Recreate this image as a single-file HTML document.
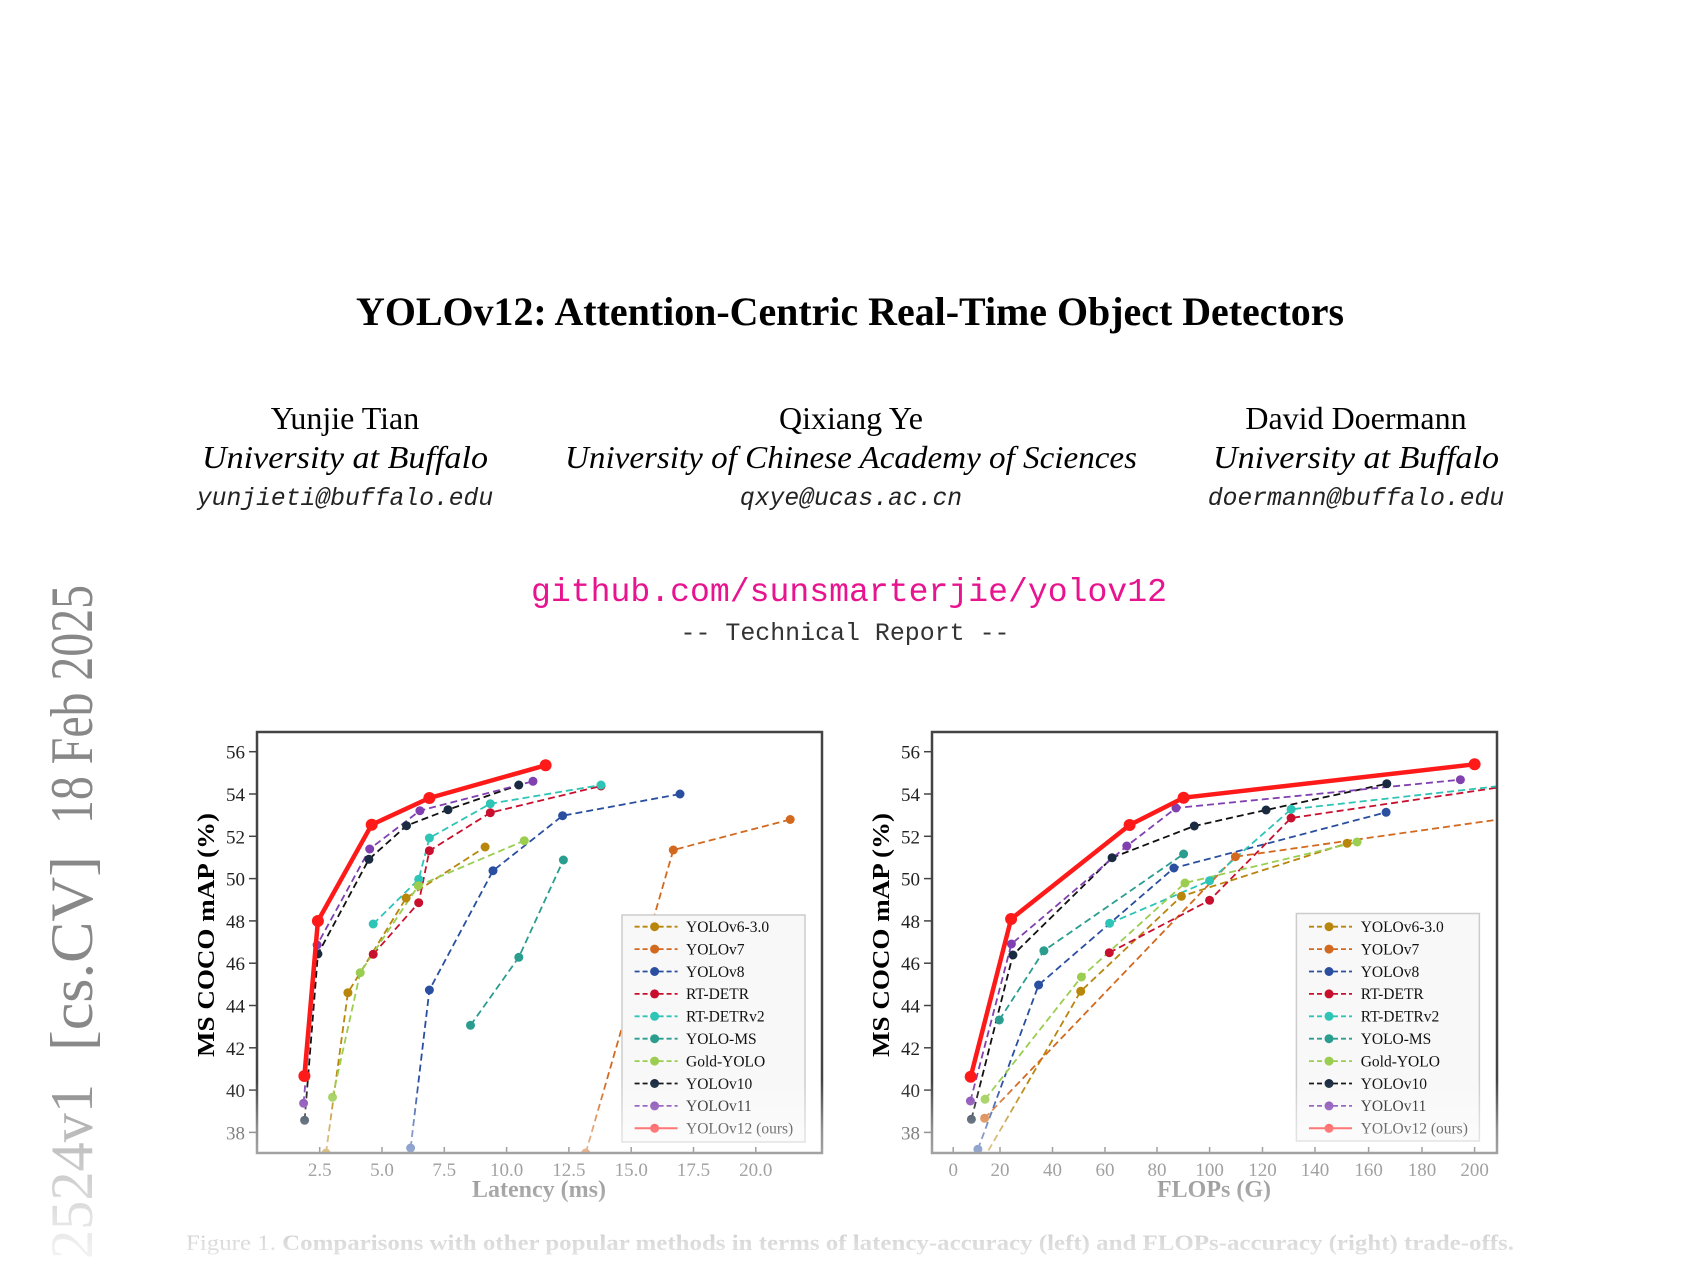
<!DOCTYPE html>
<html><head><meta charset="utf-8"><style>html,body{margin:0;padding:0;background:#fff;width:1700px;height:1275px;overflow:hidden}svg{display:block}</style></head>
<body>
<svg width="1700" height="1275" viewBox="0 0 1700 1275" xmlns="http://www.w3.org/2000/svg" font-family="'Liberation Serif', serif">
<defs>
<clipPath id="cl"><rect x="257" y="732" width="565" height="421"/></clipPath>
<clipPath id="cr"><rect x="932" y="732" width="565" height="421"/></clipPath>
<linearGradient id="fade" x1="0" y1="1080" x2="0" y2="1275" gradientUnits="userSpaceOnUse">
<stop offset="0" stop-color="#fff" stop-opacity="0"/>
<stop offset="0.26" stop-color="#fff" stop-opacity="0.42"/>
<stop offset="0.5" stop-color="#fff" stop-opacity="0.6"/>
<stop offset="0.85" stop-color="#fff" stop-opacity="0.87"/>
<stop offset="1" stop-color="#fff" stop-opacity="0.92"/>
</linearGradient>
</defs>
<rect width="1700" height="1275" fill="#fff"/>

<text x="850" y="325" font-size="40" font-weight="bold" text-anchor="middle" textLength="988" lengthAdjust="spacingAndGlyphs">YOLOv12: Attention-Centric Real-Time Object Detectors</text>

<g font-size="32" text-anchor="middle">
<text x="345" y="429">Yunjie Tian</text>
<text x="851" y="429">Qixiang Ye</text>
<text x="1356" y="429">David Doermann</text>
<g font-style="italic">
<text x="345" y="468" textLength="286" lengthAdjust="spacingAndGlyphs">University at Buffalo</text>
<text x="851" y="468" textLength="572" lengthAdjust="spacingAndGlyphs">University of Chinese Academy of Sciences</text>
<text x="1356" y="468" textLength="286" lengthAdjust="spacingAndGlyphs">University at Buffalo</text>
</g>
</g>
<g font-family="'Liberation Mono', monospace" font-size="24.7" font-style="italic" text-anchor="middle" fill="#222">
<text x="345" y="505">yunjieti@buffalo.edu</text>
<text x="851" y="505">qxye@ucas.ac.cn</text>
<text x="1356" y="505">doermann@buffalo.edu</text>
</g>
<text x="849" y="601" font-family="'Liberation Mono', monospace" font-size="33" fill="#e8138f" text-anchor="middle" textLength="636" lengthAdjust="spacingAndGlyphs">github.com/sunsmarterjie/yolov12</text>
<text x="845" y="640" font-family="'Liberation Mono', monospace" font-size="25" fill="#333" text-anchor="middle" textLength="329" lengthAdjust="spacingAndGlyphs">-- Technical Report --</text>

<!-- sidebar -->
<g fill="#888" font-size="60">
<text transform="translate(92,824) rotate(-90)" textLength="239" lengthAdjust="spacingAndGlyphs">18 Feb 2025</text>
<text transform="translate(92,1051) rotate(-90)" textLength="195" lengthAdjust="spacingAndGlyphs">[cs.CV]</text>
<text transform="translate(92,1259) rotate(-90)" textLength="175" lengthAdjust="spacingAndGlyphs">2524v1</text>
</g>

<!-- ============ LEFT CHART ============ -->
<g font-size="19" text-anchor="end" fill="#222">
<text x="245" y="758.7">56</text><text x="245" y="801">54</text><text x="245" y="843.3">52</text><text x="245" y="885.6">50</text><text x="245" y="927.9">48</text><text x="245" y="970.2">46</text><text x="245" y="1012.5">44</text><text x="245" y="1054.8">42</text><text x="245" y="1097.1">40</text><text x="245" y="1139.4">38</text>
</g>
<g stroke="#444" stroke-width="1.5">
<line x1="249" x2="257" y1="751.7" y2="751.7"/><line x1="249" x2="257" y1="794" y2="794"/><line x1="249" x2="257" y1="836.3" y2="836.3"/><line x1="249" x2="257" y1="878.6" y2="878.6"/><line x1="249" x2="257" y1="920.9" y2="920.9"/><line x1="249" x2="257" y1="963.2" y2="963.2"/><line x1="249" x2="257" y1="1005.5" y2="1005.5"/><line x1="249" x2="257" y1="1047.8" y2="1047.8"/><line x1="249" x2="257" y1="1090.1" y2="1090.1"/><line x1="249" x2="257" y1="1132.4" y2="1132.4"/>
<line x1="319.7" x2="319.7" y1="1147" y2="1153"/><line x1="382" x2="382" y1="1147" y2="1153"/><line x1="444.3" x2="444.3" y1="1147" y2="1153"/><line x1="506.6" x2="506.6" y1="1147" y2="1153"/><line x1="568.9" x2="568.9" y1="1147" y2="1153"/><line x1="631.2" x2="631.2" y1="1147" y2="1153"/><line x1="693.5" x2="693.5" y1="1147" y2="1153"/><line x1="755.8" x2="755.8" y1="1147" y2="1153"/>
</g>
<g font-size="19" text-anchor="middle" fill="#222">
<text x="319.7" y="1176">2.5</text><text x="382" y="1176">5.0</text><text x="444.3" y="1176">7.5</text><text x="506.6" y="1176">10.0</text><text x="568.9" y="1176">12.5</text><text x="631.2" y="1176">15.0</text><text x="693.5" y="1176">17.5</text><text x="755.8" y="1176">20.0</text>
</g>
<text x="539" y="1197" font-size="24" font-weight="bold" text-anchor="middle">Latency (ms)</text>
<text transform="translate(214,935) rotate(-90)" font-size="24" font-weight="bold" text-anchor="middle" textLength="244" lengthAdjust="spacingAndGlyphs">MS COCO mAP (%)</text>

<g clip-path="url(#cl)" fill="none" stroke-width="1.8" stroke-dasharray="7 4">
<polyline stroke="#b8860b" points="326,1153 347.9,992.7 406.1,898 485.1,847"/>
<polyline stroke="#d2691e" points="585.7,1153 673.3,850 790.2,819.5"/>
<polyline stroke="#2a4fa0" points="410.6,1148 429.4,990 493,870.7 562.6,815.7 680,794"/>
<polyline stroke="#c8102e" points="373.2,954.3 418.7,902.7 429.4,850.7 490.3,812.7 601,786"/>
<polyline stroke="#2ec4b6" points="373.2,924 418.7,879.3 429.4,838 490.3,803.7 601,785"/>
<polyline stroke="#2a9d8f" points="470.5,1025.3 518.8,957.3 563.4,860"/>
<polyline stroke="#9acd50" points="332.5,1097.3 360.2,972.7 418.3,885.7 524.3,840.7"/>
<polyline stroke="#111" points="304.6,1120.3 317.9,954 368.9,859.3 406.5,825.7 448,809.7 518.8,785"/>
<polyline stroke="#8040b0" points="303.6,1103.3 317.1,945 369.7,849 419.9,810.7 533,781.3"/>
</g>
<g clip-path="url(#cl)">
<g fill="#b8860b"><circle cx="326" cy="1153" r="4.5"/><circle cx="347.9" cy="992.7" r="4.5"/><circle cx="406.1" cy="898" r="4.5"/><circle cx="485.1" cy="847" r="4.5"/></g>
<g fill="#d2691e"><circle cx="585.7" cy="1153" r="4.5"/><circle cx="673.3" cy="850" r="4.5"/><circle cx="790.2" cy="819.5" r="4.5"/></g>
<g fill="#2a4fa0"><circle cx="410.6" cy="1148" r="4.5"/><circle cx="429.4" cy="990" r="4.5"/><circle cx="493" cy="870.7" r="4.5"/><circle cx="562.6" cy="815.7" r="4.5"/><circle cx="680" cy="794" r="4.5"/></g>
<g fill="#c8102e"><circle cx="373.2" cy="954.3" r="4.5"/><circle cx="418.7" cy="902.7" r="4.5"/><circle cx="429.4" cy="850.7" r="4.5"/><circle cx="490.3" cy="812.7" r="4.5"/><circle cx="601" cy="786" r="4.5"/></g>
<g fill="#2ec4b6"><circle cx="373.2" cy="924" r="4.5"/><circle cx="418.7" cy="879.3" r="4.5"/><circle cx="429.4" cy="838" r="4.5"/><circle cx="490.3" cy="803.7" r="4.5"/><circle cx="601" cy="785" r="4.5"/></g>
<g fill="#2a9d8f"><circle cx="470.5" cy="1025.3" r="4.5"/><circle cx="518.8" cy="957.3" r="4.5"/><circle cx="563.4" cy="860" r="4.5"/></g>
<g fill="#9acd50"><circle cx="332.5" cy="1097.3" r="4.5"/><circle cx="360.2" cy="972.7" r="4.5"/><circle cx="418.3" cy="885.7" r="4.5"/><circle cx="524.3" cy="840.7" r="4.5"/></g>
<g fill="#1a2a40"><circle cx="304.6" cy="1120.3" r="4.5"/><circle cx="317.9" cy="954" r="4.5"/><circle cx="368.9" cy="859.3" r="4.5"/><circle cx="406.5" cy="825.7" r="4.5"/><circle cx="448" cy="809.7" r="4.5"/><circle cx="518.8" cy="785" r="4.5"/></g>
<g fill="#8040b0"><circle cx="303.6" cy="1103.3" r="4.5"/><circle cx="317.1" cy="945" r="4.5"/><circle cx="369.7" cy="849" r="4.5"/><circle cx="419.9" cy="810.7" r="4.5"/><circle cx="533" cy="781.3" r="4.5"/></g>
<polyline fill="none" stroke="#ff1a1a" stroke-width="4.5" stroke-linejoin="round" points="304.4,1076 317.9,921 371.7,824.7 429.4,798 545.6,765.3"/>
<g fill="#ff1a1a"><circle cx="304.4" cy="1076" r="6"/><circle cx="317.9" cy="921" r="6"/><circle cx="371.7" cy="824.7" r="6"/><circle cx="429.4" cy="798" r="6"/><circle cx="545.6" cy="765.3" r="6"/></g>
</g>
<rect x="257" y="732" width="565" height="421" fill="none" stroke="#444" stroke-width="2.5"/>

<!-- left legend -->
<g>
<rect x="622" y="915" width="183" height="227" fill="#f8f8f8" stroke="#ccc" stroke-width="1.5"/>
<g stroke-width="1.8" stroke-dasharray="5 3">
<line x1="634.6" x2="677.6" y1="926.7" y2="926.7" stroke="#b8860b"/>
<line x1="634.6" x2="677.6" y1="949.1" y2="949.1" stroke="#d2691e"/>
<line x1="634.6" x2="677.6" y1="971.5" y2="971.5" stroke="#2a4fa0"/>
<line x1="634.6" x2="677.6" y1="993.9" y2="993.9" stroke="#c8102e"/>
<line x1="634.6" x2="677.6" y1="1016.3" y2="1016.3" stroke="#2ec4b6"/>
<line x1="634.6" x2="677.6" y1="1038.7" y2="1038.7" stroke="#2a9d8f"/>
<line x1="634.6" x2="677.6" y1="1061.1" y2="1061.1" stroke="#9acd50"/>
<line x1="634.6" x2="677.6" y1="1083.5" y2="1083.5" stroke="#111"/>
<line x1="634.6" x2="677.6" y1="1105.9" y2="1105.9" stroke="#8040b0"/>
</g>
<line x1="634.6" x2="677.6" y1="1128.3" y2="1128.3" stroke="#ff1a1a" stroke-width="2"/>
<circle cx="654.6" cy="926.7" r="4.5" fill="#b8860b"/><circle cx="654.6" cy="949.1" r="4.5" fill="#d2691e"/><circle cx="654.6" cy="971.5" r="4.5" fill="#2a4fa0"/><circle cx="654.6" cy="993.9" r="4.5" fill="#c8102e"/><circle cx="654.6" cy="1016.3" r="4.5" fill="#2ec4b6"/><circle cx="654.6" cy="1038.7" r="4.5" fill="#2a9d8f"/><circle cx="654.6" cy="1061.1" r="4.5" fill="#9acd50"/><circle cx="654.6" cy="1083.5" r="4.5" fill="#1a2a40"/><circle cx="654.6" cy="1105.9" r="4.5" fill="#8040b0"/><circle cx="654.6" cy="1128.3" r="4.5" fill="#ff1a1a"/>
<g font-size="15.5" fill="#111">
<text x="686" y="932">YOLOv6-3.0</text><text x="686" y="954.4">YOLOv7</text><text x="686" y="976.8">YOLOv8</text><text x="686" y="999.2">RT-DETR</text><text x="686" y="1021.6">RT-DETRv2</text><text x="686" y="1044">YOLO-MS</text><text x="686" y="1066.4">Gold-YOLO</text><text x="686" y="1088.8">YOLOv10</text><text x="686" y="1111.2">YOLOv11</text><text x="686" y="1133.6">YOLOv12 (ours)</text>
</g>
</g>

<!-- ============ RIGHT CHART ============ -->
<g font-size="19" text-anchor="end" fill="#222">
<text x="920" y="758.7">56</text><text x="920" y="801">54</text><text x="920" y="843.3">52</text><text x="920" y="885.6">50</text><text x="920" y="927.9">48</text><text x="920" y="970.2">46</text><text x="920" y="1012.5">44</text><text x="920" y="1054.8">42</text><text x="920" y="1097.1">40</text><text x="920" y="1139.4">38</text>
</g>
<g stroke="#444" stroke-width="1.5">
<line x1="924" x2="932" y1="751.7" y2="751.7"/><line x1="924" x2="932" y1="794" y2="794"/><line x1="924" x2="932" y1="836.3" y2="836.3"/><line x1="924" x2="932" y1="878.6" y2="878.6"/><line x1="924" x2="932" y1="920.9" y2="920.9"/><line x1="924" x2="932" y1="963.2" y2="963.2"/><line x1="924" x2="932" y1="1005.5" y2="1005.5"/><line x1="924" x2="932" y1="1047.8" y2="1047.8"/><line x1="924" x2="932" y1="1090.1" y2="1090.1"/><line x1="924" x2="932" y1="1132.4" y2="1132.4"/>
<line x1="953.2" x2="953.2" y1="1147" y2="1153"/><line x1="1000" x2="1000" y1="1147" y2="1153"/><line x1="1052.5" x2="1052.5" y1="1147" y2="1153"/><line x1="1105" x2="1105" y1="1147" y2="1153"/><line x1="1157" x2="1157" y1="1147" y2="1153"/><line x1="1209.6" x2="1209.6" y1="1147" y2="1153"/><line x1="1262.5" x2="1262.5" y1="1147" y2="1153"/><line x1="1315" x2="1315" y1="1147" y2="1153"/><line x1="1368.6" x2="1368.6" y1="1147" y2="1153"/><line x1="1422" x2="1422" y1="1147" y2="1153"/><line x1="1474.6" x2="1474.6" y1="1147" y2="1153"/>
</g>
<g font-size="19" text-anchor="middle" fill="#222">
<text x="953.2" y="1176">0</text><text x="1000" y="1176">20</text><text x="1052.5" y="1176">40</text><text x="1105" y="1176">60</text><text x="1157" y="1176">80</text><text x="1209.6" y="1176">100</text><text x="1262.5" y="1176">120</text><text x="1315" y="1176">140</text><text x="1368.6" y="1176">160</text><text x="1422" y="1176">180</text><text x="1474.6" y="1176">200</text>
</g>
<text x="1214" y="1197" font-size="24" font-weight="bold" text-anchor="middle">FLOPs (G)</text>
<text transform="translate(889,935) rotate(-90)" font-size="24" font-weight="bold" text-anchor="middle" textLength="244" lengthAdjust="spacingAndGlyphs">MS COCO mAP (%)</text>

<g clip-path="url(#cr)" fill="none" stroke-width="1.8" stroke-dasharray="7 4">
<polyline stroke="#b8860b" points="982.9,1160 1080.7,991.3 1181.4,896.3 1347.1,843.3"/>
<polyline stroke="#d2691e" points="984.6,1118.3 1235.4,856.7 1500,819.3"/>
<polyline stroke="#2a4fa0" points="977.9,1149.3 1038.6,985 1173.9,868 1386.1,812.3"/>
<polyline stroke="#c8102e" points="1109.3,952.7 1209.6,900.3 1291.1,818 1500,787.3"/>
<polyline stroke="#2ec4b6" points="1109.6,923.3 1209.6,880.7 1291.1,809.3 1500,786"/>
<polyline stroke="#2a9d8f" points="999.3,1020 1043.9,950.7 1183.6,854"/>
<polyline stroke="#9acd50" points="985,1099.3 1081.4,977 1185,883 1357.1,842"/>
<polyline stroke="#111" points="971.4,1119.3 1012.9,955 1112.1,857.7 1194.3,826 1266.1,810 1386.8,783.7"/>
<polyline stroke="#8040b0" points="970.4,1101 1011.4,944 1126.8,846 1176,808 1460.4,779.7"/>
</g>
<g clip-path="url(#cr)">
<g fill="#b8860b"><circle cx="1080.7" cy="991.3" r="4.5"/><circle cx="1181.4" cy="896.3" r="4.5"/><circle cx="1347.1" cy="843.3" r="4.5"/></g>
<g fill="#d2691e"><circle cx="984.6" cy="1118.3" r="4.5"/><circle cx="1235.4" cy="856.7" r="4.5"/></g>
<g fill="#2a4fa0"><circle cx="977.9" cy="1149.3" r="4.5"/><circle cx="1038.6" cy="985" r="4.5"/><circle cx="1173.9" cy="868" r="4.5"/><circle cx="1386.1" cy="812.3" r="4.5"/></g>
<g fill="#c8102e"><circle cx="1109.3" cy="952.7" r="4.5"/><circle cx="1209.6" cy="900.3" r="4.5"/><circle cx="1291.1" cy="818" r="4.5"/></g>
<g fill="#2ec4b6"><circle cx="1109.6" cy="923.3" r="4.5"/><circle cx="1209.6" cy="880.7" r="4.5"/><circle cx="1291.1" cy="809.3" r="4.5"/></g>
<g fill="#2a9d8f"><circle cx="999.3" cy="1020" r="4.5"/><circle cx="1043.9" cy="950.7" r="4.5"/><circle cx="1183.6" cy="854" r="4.5"/></g>
<g fill="#9acd50"><circle cx="985" cy="1099.3" r="4.5"/><circle cx="1081.4" cy="977" r="4.5"/><circle cx="1185" cy="883" r="4.5"/><circle cx="1357.1" cy="842" r="4.5"/></g>
<g fill="#1a2a40"><circle cx="971.4" cy="1119.3" r="4.5"/><circle cx="1012.9" cy="955" r="4.5"/><circle cx="1112.1" cy="857.7" r="4.5"/><circle cx="1194.3" cy="826" r="4.5"/><circle cx="1266.1" cy="810" r="4.5"/><circle cx="1386.8" cy="783.7" r="4.5"/></g>
<g fill="#8040b0"><circle cx="970.4" cy="1101" r="4.5"/><circle cx="1011.4" cy="944" r="4.5"/><circle cx="1126.8" cy="846" r="4.5"/><circle cx="1176" cy="808" r="4.5"/><circle cx="1460.4" cy="779.7" r="4.5"/></g>
<polyline fill="none" stroke="#ff1a1a" stroke-width="4.5" stroke-linejoin="round" points="970.7,1076.7 1011.1,919 1129.6,825 1183.6,797.7 1474.6,764.3"/>
<g fill="#ff1a1a"><circle cx="970.7" cy="1076.7" r="6"/><circle cx="1011.1" cy="919" r="6"/><circle cx="1129.6" cy="825" r="6"/><circle cx="1183.6" cy="797.7" r="6"/><circle cx="1474.6" cy="764.3" r="6"/></g>
</g>
<rect x="932" y="732" width="565" height="421" fill="none" stroke="#444" stroke-width="2.5"/>

<!-- right legend -->
<g>
<rect x="1296.4" y="913.5" width="183" height="227.5" fill="#f8f8f8" stroke="#ccc" stroke-width="1.5"/>
<g stroke-width="1.8" stroke-dasharray="5 3">
<line x1="1309" x2="1352" y1="926.7" y2="926.7" stroke="#b8860b"/>
<line x1="1309" x2="1352" y1="949.1" y2="949.1" stroke="#d2691e"/>
<line x1="1309" x2="1352" y1="971.5" y2="971.5" stroke="#2a4fa0"/>
<line x1="1309" x2="1352" y1="993.9" y2="993.9" stroke="#c8102e"/>
<line x1="1309" x2="1352" y1="1016.3" y2="1016.3" stroke="#2ec4b6"/>
<line x1="1309" x2="1352" y1="1038.7" y2="1038.7" stroke="#2a9d8f"/>
<line x1="1309" x2="1352" y1="1061.1" y2="1061.1" stroke="#9acd50"/>
<line x1="1309" x2="1352" y1="1083.5" y2="1083.5" stroke="#111"/>
<line x1="1309" x2="1352" y1="1105.9" y2="1105.9" stroke="#8040b0"/>
</g>
<line x1="1309" x2="1352" y1="1128.3" y2="1128.3" stroke="#ff1a1a" stroke-width="2"/>
<circle cx="1329" cy="926.7" r="4.5" fill="#b8860b"/><circle cx="1329" cy="949.1" r="4.5" fill="#d2691e"/><circle cx="1329" cy="971.5" r="4.5" fill="#2a4fa0"/><circle cx="1329" cy="993.9" r="4.5" fill="#c8102e"/><circle cx="1329" cy="1016.3" r="4.5" fill="#2ec4b6"/><circle cx="1329" cy="1038.7" r="4.5" fill="#2a9d8f"/><circle cx="1329" cy="1061.1" r="4.5" fill="#9acd50"/><circle cx="1329" cy="1083.5" r="4.5" fill="#1a2a40"/><circle cx="1329" cy="1105.9" r="4.5" fill="#8040b0"/><circle cx="1329" cy="1128.3" r="4.5" fill="#ff1a1a"/>
<g font-size="15.5" fill="#111">
<text x="1360.7" y="932">YOLOv6-3.0</text><text x="1360.7" y="954.4">YOLOv7</text><text x="1360.7" y="976.8">YOLOv8</text><text x="1360.7" y="999.2">RT-DETR</text><text x="1360.7" y="1021.6">RT-DETRv2</text><text x="1360.7" y="1044">YOLO-MS</text><text x="1360.7" y="1066.4">Gold-YOLO</text><text x="1360.7" y="1088.8">YOLOv10</text><text x="1360.7" y="1111.2">YOLOv11</text><text x="1360.7" y="1133.6">YOLOv12 (ours)</text>
</g>
</g>

<text x="850" y="1250" font-size="22" text-anchor="middle" textLength="1328" lengthAdjust="spacingAndGlyphs">Figure 1. <tspan font-weight="bold">Comparisons with other popular methods in terms of latency-accuracy (left) and FLOPs-accuracy (right) trade-offs.</tspan></text>

<rect x="0" y="1080" width="1700" height="195" fill="url(#fade)"/>
</svg>
</body></html>
